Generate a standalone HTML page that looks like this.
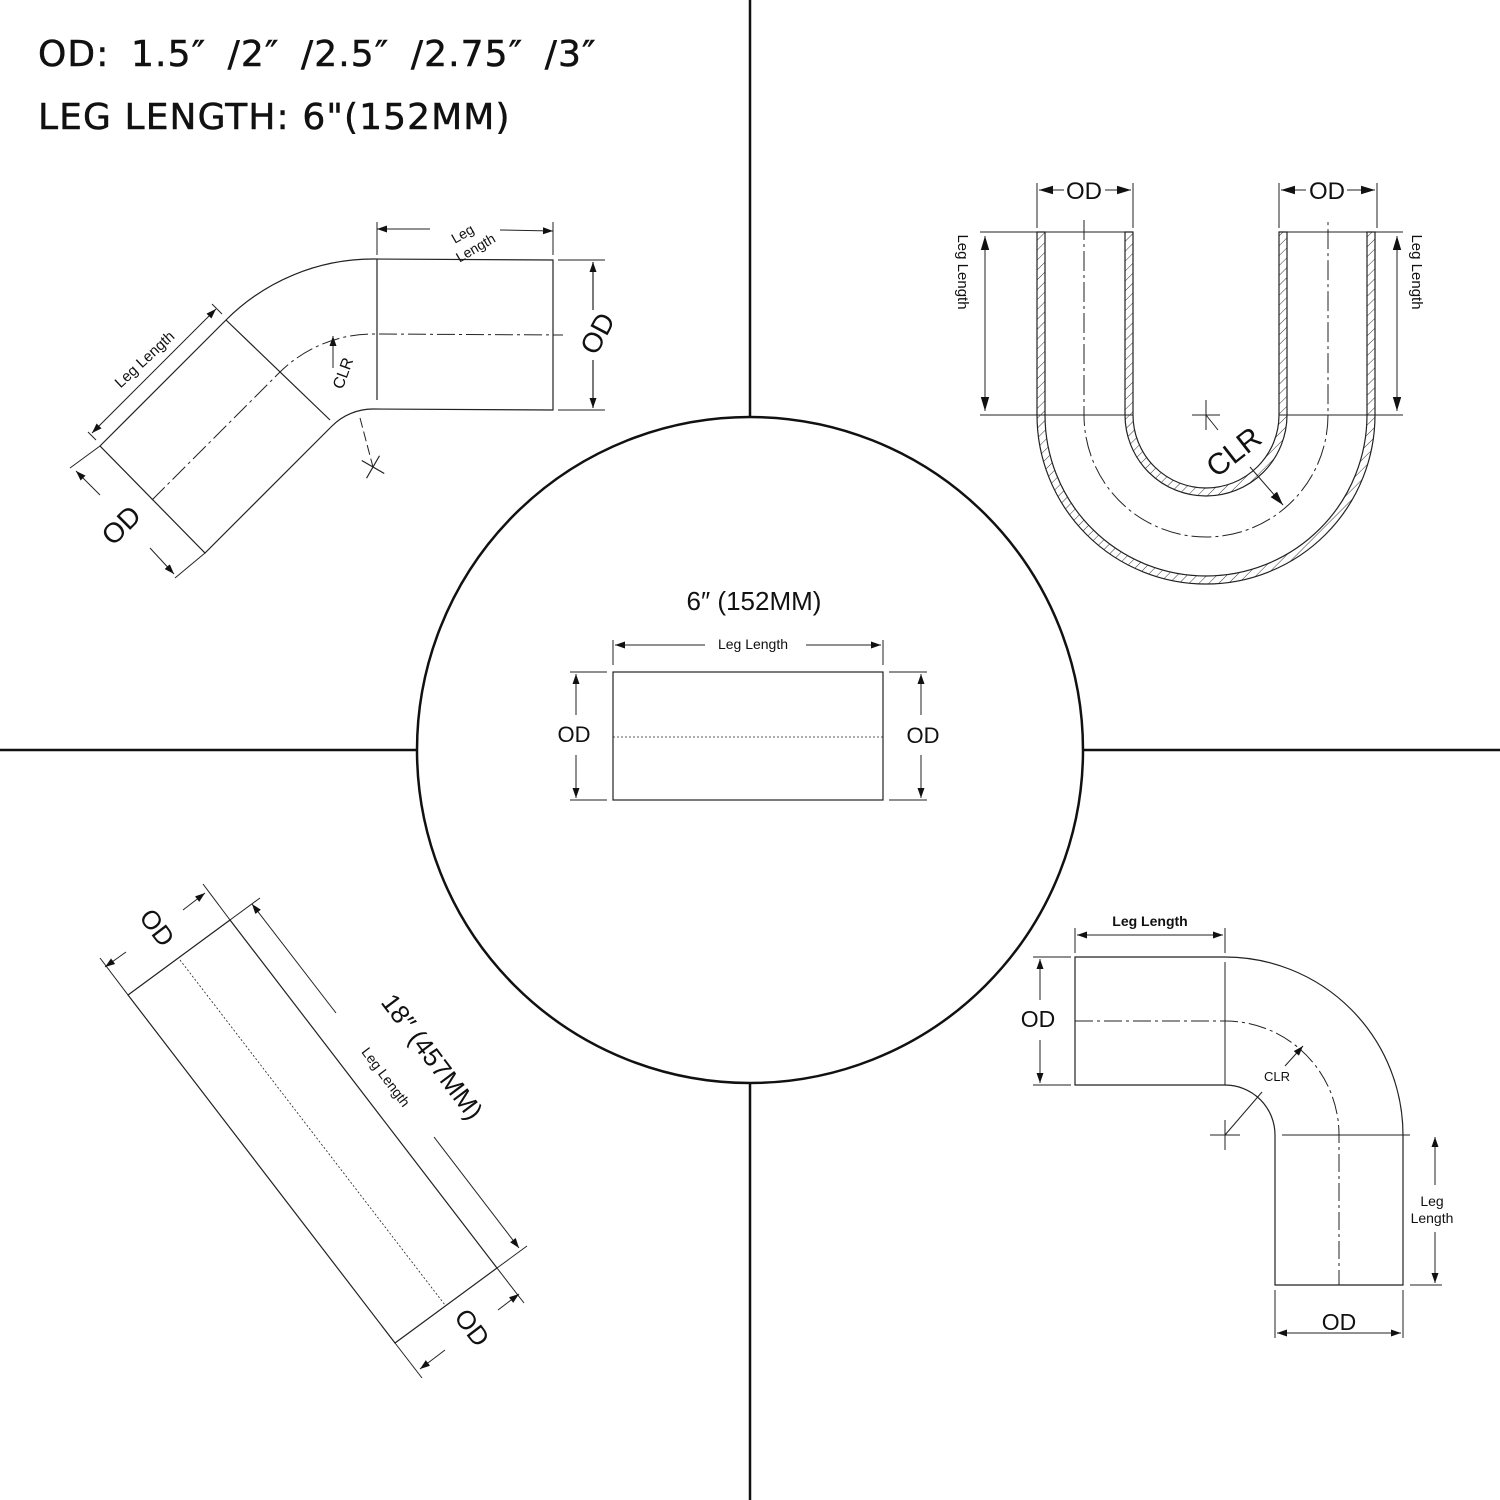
<!DOCTYPE html>
<html><head><meta charset="utf-8"><style>
html,body{margin:0;padding:0;background:#fff}
svg{display:block}
text{font-family:"Liberation Sans",sans-serif;fill:#111}
</style></head><body>
<svg width="1500" height="1500" viewBox="0 0 1500 1500" xmlns="http://www.w3.org/2000/svg">
<defs>
<marker id="a" viewBox="0 0 10 10" refX="10" refY="5" markerWidth="10" markerHeight="10" orient="auto-start-reverse" markerUnits="userSpaceOnUse"><path d="M0,1.5 L10,5 L0,8.5Z" fill="#111"/></marker>
<marker id="b" viewBox="0 0 10 10" refX="10" refY="5" markerWidth="14" markerHeight="14" orient="auto-start-reverse" markerUnits="userSpaceOnUse"><path d="M0,2 L10,5 L0,8Z" fill="#111"/></marker>
<pattern id="h" width="7" height="7" patternUnits="userSpaceOnUse" patternTransform="rotate(45)"><line x1="0" y1="0" x2="0" y2="7" stroke="#333" stroke-width="1"/></pattern>
</defs>

<g stroke="#111" stroke-width="2.5" fill="none">
<line x1="750" y1="0" x2="750" y2="418"/>
<line x1="750" y1="1083" x2="750" y2="1500"/>
<line x1="0" y1="750" x2="418" y2="750"/>
<line x1="1083" y1="750" x2="1500" y2="750"/>
<circle cx="750" cy="750" r="333"/>
</g>

<text x="38" y="66" font-size="36" style="font-family:'DejaVu Sans',sans-serif;letter-spacing:1.1px;word-spacing:9px" stroke="#111" stroke-width="0.5">OD: 1.5″ /2″ /2.5″ /2.75″ /3″</text>
<text x="38" y="129" font-size="36" style="font-family:'DejaVu Sans',sans-serif;letter-spacing:1.1px" stroke="#111" stroke-width="0.5">LEG LENGTH: 6"(152MM)</text>

<!-- 45 deg elbow -->
<g stroke="#222" stroke-width="1.2" fill="none">
<path d="M100,446 L226,320 A208,208 0 0 1 373,259 L553,260 L553,410 L373,409 A58,58 0 0 0 332,426 L205,553 Z"/>
<line x1="377" y1="259" x2="377" y2="400"/>
<line x1="226" y1="320" x2="330" y2="420"/>
<path d="M152,500 L279,373 A133,133 0 0 1 373,334 L563,335" stroke-dasharray="18,4,3,4" stroke-width="1"/>
<line x1="360" y1="418" x2="373" y2="467" stroke-dasharray="10,4" stroke-width="1"/>
<line x1="360" y1="467" x2="386" y2="467" transform="rotate(30 373 467)"/>
<line x1="373" y1="454" x2="373" y2="480" transform="rotate(30 373 467)"/>
<line x1="333" y1="368" x2="333" y2="336" marker-end="url(#a)" stroke-width="1"/>
<line x1="377" y1="222" x2="377" y2="255" stroke-width="1"/>
<line x1="553" y1="222" x2="553" y2="255" stroke-width="1"/>
<line x1="430" y1="229" x2="377" y2="229" marker-end="url(#a)" stroke-width="1"/>
<line x1="500" y1="230" x2="553" y2="231" marker-end="url(#a)" stroke-width="1"/>
<line x1="558" y1="260" x2="605" y2="260" stroke-width="1"/>
<line x1="558" y1="410" x2="605" y2="410" stroke-width="1"/>
<line x1="593" y1="310" x2="593" y2="262" marker-end="url(#a)" stroke-width="1.2"/>
<line x1="593" y1="360" x2="593" y2="408" marker-end="url(#a)" stroke-width="1.2"/>
<line x1="96" y1="440" x2="88" y2="432" stroke-width="1"/>
<line x1="222" y1="314" x2="212" y2="304" stroke-width="1"/>
<line x1="92" y1="433" x2="216" y2="309" marker-start="url(#a)" marker-end="url(#a)" stroke-width="1"/>
<line x1="100" y1="446" x2="70" y2="468" stroke-width="1"/>
<line x1="205" y1="553" x2="175" y2="578" stroke-width="1"/>
<line x1="100" y1="495" x2="76" y2="471" marker-end="url(#a)" stroke-width="1"/>
<line x1="150" y1="548" x2="174" y2="574" marker-end="url(#a)" stroke-width="1"/>
</g>
<text font-size="14" transform="translate(465,238) rotate(-30)" text-anchor="middle">Leg</text>
<text font-size="14" transform="translate(478,252) rotate(-30)" text-anchor="middle">Length</text>
<text font-size="28" transform="translate(606,338) rotate(-62)" text-anchor="middle">OD</text>
<text font-size="15" transform="translate(148,363) rotate(-43)" text-anchor="middle">Leg Length</text>
<text font-size="28" transform="translate(128,532) rotate(-45)" text-anchor="middle">OD</text>
<text font-size="16" transform="translate(348,375) rotate(-70)" text-anchor="middle">CLR</text>

<!-- U bend -->
<path d="M1037,232 L1037,415 A169,169 0 0 0 1375,415 L1375,232 L1367,232 L1367,415 A161,161 0 0 1 1045,415 L1045,232 Z" fill="url(#h)" stroke="#222" stroke-width="1.2"/>
<path d="M1125,232 L1125,415 A81,81 0 0 0 1287,415 L1287,232 L1279,232 L1279,415 A73,73 0 0 1 1133,415 L1133,232 Z" fill="url(#h)" stroke="#222" stroke-width="1.2"/>
<g stroke="#222" stroke-width="1" fill="none">
<line x1="1037" y1="232" x2="1133" y2="232"/>
<line x1="1279" y1="232" x2="1375" y2="232"/>
<line x1="980" y1="232" x2="1037" y2="232"/>
<line x1="980" y1="415" x2="1133" y2="415"/>
<line x1="1279" y1="415" x2="1403" y2="415"/>
<line x1="1375" y1="232" x2="1403" y2="232"/>
<path d="M1084,220 L1084,415 A122,122 0 0 0 1328,415 L1328,220" stroke-dasharray="20,4,3,4"/>
<line x1="985" y1="236" x2="985" y2="411" marker-start="url(#b)" marker-end="url(#b)"/>
<line x1="1397" y1="236" x2="1397" y2="411" marker-start="url(#b)" marker-end="url(#b)"/>
<line x1="1037" y1="183" x2="1037" y2="228"/>
<line x1="1133" y1="183" x2="1133" y2="228"/>
<line x1="1279" y1="183" x2="1279" y2="228"/>
<line x1="1377" y1="183" x2="1377" y2="228"/>
<line x1="1064" y1="190" x2="1039" y2="190" marker-end="url(#b)"/>
<line x1="1105" y1="190" x2="1131" y2="190" marker-end="url(#b)"/>
<line x1="1306" y1="190" x2="1281" y2="190" marker-end="url(#b)"/>
<line x1="1347" y1="190" x2="1375" y2="190" marker-end="url(#b)"/>
<line x1="1192" y1="415" x2="1220" y2="415"/>
<line x1="1206" y1="400" x2="1206" y2="430"/>
<line x1="1206" y1="415" x2="1218" y2="430"/>
<line x1="1250" y1="467" x2="1283" y2="505" marker-end="url(#b)"/>
</g>
<text x="1084" y="199" font-size="24" text-anchor="middle">OD</text>
<text x="1327" y="199" font-size="24" text-anchor="middle">OD</text>
<text font-size="15" transform="translate(958,272) rotate(90)" text-anchor="middle">Leg Length</text>
<text font-size="15" transform="translate(1412,272) rotate(90)" text-anchor="middle">Leg Length</text>
<text font-size="30" transform="translate(1240,460) rotate(-38)" text-anchor="middle">CLR</text>

<!-- center straight -->
<g stroke="#222" stroke-width="1.2" fill="none">
<rect x="613" y="672" width="270" height="128"/>
<line x1="613" y1="737" x2="883" y2="737" stroke-dasharray="2,2" stroke-width="0.8"/>
<line x1="613" y1="640" x2="613" y2="665" stroke-width="1"/>
<line x1="883" y1="640" x2="883" y2="665" stroke-width="1"/>
<line x1="705" y1="645" x2="615" y2="645" marker-end="url(#a)" stroke-width="1"/>
<line x1="806" y1="645" x2="881" y2="645" marker-end="url(#a)" stroke-width="1"/>
<line x1="570" y1="672" x2="607" y2="672" stroke-width="1"/>
<line x1="570" y1="800" x2="607" y2="800" stroke-width="1"/>
<line x1="889" y1="672" x2="927" y2="672" stroke-width="1"/>
<line x1="889" y1="800" x2="927" y2="800" stroke-width="1"/>
<line x1="576" y1="715" x2="576" y2="674" marker-end="url(#a)" stroke-width="1"/>
<line x1="576" y1="755" x2="576" y2="798" marker-end="url(#a)" stroke-width="1"/>
<line x1="921" y1="715" x2="921" y2="674" marker-end="url(#a)" stroke-width="1"/>
<line x1="921" y1="755" x2="921" y2="798" marker-end="url(#a)" stroke-width="1"/>
</g>
<text x="754" y="610" font-size="26" text-anchor="middle">6″ (152MM)</text>
<text x="753" y="649" font-size="14" text-anchor="middle">Leg Length</text>
<text x="574" y="742" font-size="22" text-anchor="middle">OD</text>
<text x="923" y="743" font-size="22" text-anchor="middle">OD</text>

<!-- diagonal straight 18in -->
<g stroke="#222" stroke-width="1.2" fill="none">
<path d="M128,995 L230,920 L497,1268 L395,1343 Z"/>
<line x1="180" y1="960" x2="445" y2="1305" stroke-dasharray="2,2" stroke-width="0.8"/>
<line x1="128" y1="995" x2="100" y2="958" stroke-width="1"/>
<line x1="230" y1="920" x2="203" y2="884" stroke-width="1"/>
<line x1="126" y1="952" x2="105" y2="967" marker-end="url(#a)" stroke-width="1"/>
<line x1="183" y1="910" x2="205" y2="893" marker-end="url(#a)" stroke-width="1"/>
<line x1="230" y1="920" x2="260" y2="898" stroke-width="1"/>
<line x1="497" y1="1268" x2="527" y2="1246" stroke-width="1"/>
<line x1="336" y1="1013" x2="252" y2="904" marker-end="url(#a)" stroke-width="1"/>
<line x1="434" y1="1137" x2="519" y2="1248" marker-end="url(#a)" stroke-width="1"/>
<line x1="395" y1="1343" x2="422" y2="1378" stroke-width="1"/>
<line x1="497" y1="1268" x2="524" y2="1303" stroke-width="1"/>
<line x1="445" y1="1350" x2="420" y2="1369" marker-end="url(#a)" stroke-width="1"/>
<line x1="498" y1="1310" x2="519" y2="1294" marker-end="url(#a)" stroke-width="1"/>
</g>
<text font-size="26" transform="translate(150,933) rotate(53)" text-anchor="middle">OD</text>
<text font-size="26" transform="translate(425,1062) rotate(53)" text-anchor="middle">18″ (457MM)</text>
<text font-size="14" transform="translate(382,1080) rotate(53)" text-anchor="middle">Leg Length</text>
<text font-size="26" transform="translate(465,1333) rotate(53)" text-anchor="middle">OD</text>

<!-- 90 deg elbow -->
<g stroke="#222" stroke-width="1.2" fill="none">
<path d="M1075,957 L1225,957 A178,178 0 0 1 1403,1135 L1403,1285 L1275,1285 L1275,1135 A50,50 0 0 0 1225,1085 L1075,1085 Z"/>
<line x1="1225" y1="962" x2="1225" y2="1085" stroke-width="1"/>
<line x1="1282" y1="1135" x2="1410" y2="1135" stroke-width="1"/>
<path d="M1075,1021 L1225,1021 A114,114 0 0 1 1339,1135 L1339,1285" stroke-dasharray="18,4,3,4" stroke-width="1"/>
<line x1="1210" y1="1135" x2="1240" y2="1135" stroke-width="1"/>
<line x1="1225" y1="1120" x2="1225" y2="1150" stroke-width="1"/>
<line x1="1225" y1="1135" x2="1262" y2="1092" stroke-width="1"/>
<line x1="1285" y1="1066" x2="1303" y2="1046" marker-end="url(#a)" stroke-width="1"/>
<line x1="1075" y1="928" x2="1075" y2="953" stroke-width="1"/>
<line x1="1225" y1="928" x2="1225" y2="953" stroke-width="1"/>
<line x1="1077" y1="935" x2="1223" y2="935" marker-start="url(#a)" marker-end="url(#a)" stroke-width="1"/>
<line x1="1033" y1="957" x2="1071" y2="957" stroke-width="1"/>
<line x1="1033" y1="1085" x2="1071" y2="1085" stroke-width="1"/>
<line x1="1040" y1="1000" x2="1040" y2="959" marker-end="url(#a)" stroke-width="1"/>
<line x1="1040" y1="1040" x2="1040" y2="1083" marker-end="url(#a)" stroke-width="1"/>
<line x1="1410" y1="1285" x2="1442" y2="1285" stroke-width="1"/>
<line x1="1435" y1="1185" x2="1435" y2="1137" marker-end="url(#a)" stroke-width="1"/>
<line x1="1435" y1="1232" x2="1435" y2="1283" marker-end="url(#a)" stroke-width="1"/>
<line x1="1275" y1="1290" x2="1275" y2="1338" stroke-width="1"/>
<line x1="1403" y1="1290" x2="1403" y2="1338" stroke-width="1"/>
<line x1="1277" y1="1333" x2="1401" y2="1333" marker-start="url(#a)" marker-end="url(#a)" stroke-width="1"/>
</g>
<text x="1150" y="926" font-size="14" text-anchor="middle" font-weight="bold">Leg Length</text>
<text x="1038" y="1027" font-size="23" text-anchor="middle">OD</text>
<text x="1277" y="1081" font-size="13" text-anchor="middle">CLR</text>
<text x="1432" y="1206" font-size="14" text-anchor="middle">Leg</text>
<text x="1432" y="1223" font-size="14" text-anchor="middle">Length</text>
<text x="1339" y="1330" font-size="23" text-anchor="middle">OD</text>
</svg>
</body></html>
